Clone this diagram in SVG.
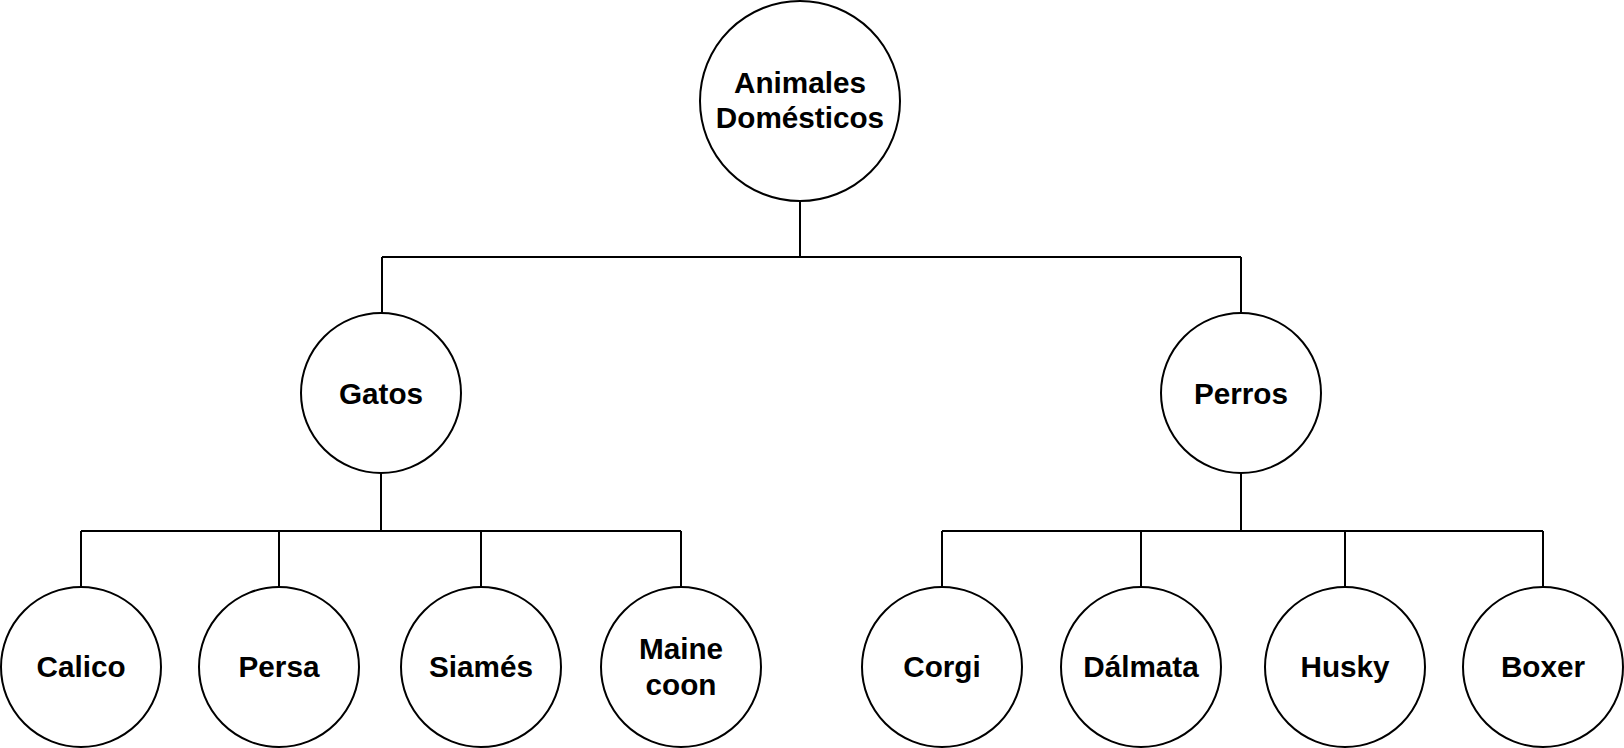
<svg xmlns="http://www.w3.org/2000/svg" width="1624" height="748" viewBox="0 0 1624 748">
<style>
.n{fill:#fff;stroke:#000;stroke-width:2}
.t{font-family:"Liberation Sans",Arial,Helvetica,sans-serif;font-weight:bold;font-size:29.7px;fill:#000;text-anchor:middle}
.c{fill:none;stroke:#000;stroke-width:2}
</style>
<rect width="1624" height="748" fill="#fff"/>
<g id="connectors" class="c">
<path d="M800 201V257M382 257H1241M382 257V313M1241 257V313"/>
<path d="M381 473V531M81 531H681M81 531V587M279 531V587M481 531V587M681 531V587"/>
<path d="M1241 473V531M942 531H1543M942 531V587M1141 531V587M1345 531V587M1543 531V587"/>
</g>
<g id="root"><circle class="n" cx="800" cy="101" r="100"/><text class="t" x="800" y="93">Animales</text><text class="t" x="800" y="128">Domésticos</text></g>
<g id="gatos"><circle class="n" cx="381" cy="393" r="80"/><text class="t" x="381" y="404">Gatos</text></g>
<g id="perros"><circle class="n" cx="1241" cy="393" r="80"/><text class="t" x="1241" y="404">Perros</text></g>
<g id="calico"><circle class="n" cx="81" cy="667" r="80"/><text class="t" x="81" y="677">Calico</text></g>
<g id="persa"><circle class="n" cx="279" cy="667" r="80"/><text class="t" x="279" y="677">Persa</text></g>
<g id="siames"><circle class="n" cx="481" cy="667" r="80"/><text class="t" x="481" y="677">Siamés</text></g>
<g id="mainecoon"><circle class="n" cx="681" cy="667" r="80"/><text class="t" x="681" y="659">Maine</text><text class="t" x="681" y="695">coon</text></g>
<g id="corgi"><circle class="n" cx="942" cy="667" r="80"/><text class="t" x="942" y="677">Corgi</text></g>
<g id="dalmata"><circle class="n" cx="1141" cy="667" r="80"/><text class="t" x="1141" y="677">Dálmata</text></g>
<g id="husky"><circle class="n" cx="1345" cy="667" r="80"/><text class="t" x="1345" y="677">Husky</text></g>
<g id="boxer"><circle class="n" cx="1543" cy="667" r="80"/><text class="t" x="1543" y="677">Boxer</text></g>
</svg>
